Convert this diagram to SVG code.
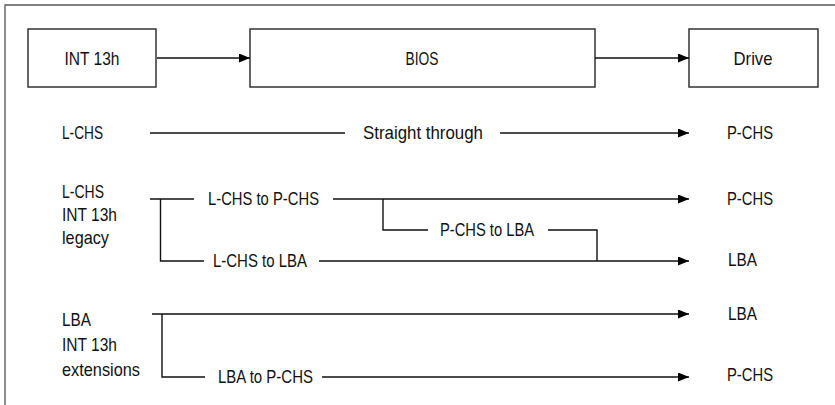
<svg xmlns="http://www.w3.org/2000/svg" width="835" height="405" viewBox="0 0 835 405">
<defs>
<marker id="ah" markerUnits="userSpaceOnUse" markerWidth="11" markerHeight="9" refX="11" refY="4.5" orient="auto">
<path d="M0,0 L11,4.5 L0,9 z" fill="#000"/>
</marker>
<style>
text{font-family:"Liberation Sans Narrow","Liberation Sans",Arial,sans-serif;font-size:19px;fill:#111}
.box{fill:#fff;stroke:#333;stroke-width:1.5}
.ln{fill:none;stroke:#111;stroke-width:1.4}
.ar{fill:none;stroke:#111;stroke-width:1.4;marker-end:url(#ah)}
.frame{fill:none;stroke:#555;stroke-width:1.3}
</style>
</defs>
<rect width="835" height="405" fill="#fff"/>
<path class="frame" d="M5,405 V5 H835"/>

<g id="int13h"><rect class="box" x="28" y="29" width="128" height="58"/><text x="92" y="65" text-anchor="middle" textLength="55" lengthAdjust="spacingAndGlyphs">INT 13h</text></g>
<g id="bios"><rect class="box" x="250" y="29" width="345" height="58"/><text x="422" y="65" text-anchor="middle" textLength="33" lengthAdjust="spacingAndGlyphs">BIOS</text></g>
<g id="drive"><rect class="box" x="689" y="29" width="129" height="58"/><text x="753" y="65" text-anchor="middle" textLength="39" lengthAdjust="spacingAndGlyphs">Drive</text></g>

<g id="row1-left"><text x="62" y="139" textLength="41" lengthAdjust="spacingAndGlyphs">L-CHS</text></g>
<g id="row1-right"><text x="727" y="139" textLength="46" lengthAdjust="spacingAndGlyphs">P-CHS</text></g>
<g id="straight"><text x="363" y="139" textLength="120" lengthAdjust="spacingAndGlyphs">Straight through</text></g>

<g id="row2-left"><text x="62" y="198" textLength="42" lengthAdjust="spacingAndGlyphs">L-CHS</text><text x="62" y="221" textLength="55" lengthAdjust="spacingAndGlyphs">INT 13h</text><text x="62" y="244" textLength="47" lengthAdjust="spacingAndGlyphs">legacy</text></g>
<g id="row2-pchs"><text x="727" y="205" textLength="46" lengthAdjust="spacingAndGlyphs">P-CHS</text></g>
<g id="row2-lba"><text x="728" y="266" textLength="29" lengthAdjust="spacingAndGlyphs">LBA</text></g>
<g id="lchs-pchs"><text x="208" y="205" textLength="111" lengthAdjust="spacingAndGlyphs">L-CHS to P-CHS</text></g>
<g id="pchs-lba"><text x="440" y="236" textLength="94" lengthAdjust="spacingAndGlyphs">P-CHS to LBA</text></g>
<g id="lchs-lba"><text x="213" y="267" textLength="94" lengthAdjust="spacingAndGlyphs">L-CHS to LBA</text></g>

<g id="row3-left"><text x="62" y="326" textLength="29" lengthAdjust="spacingAndGlyphs">LBA</text><text x="62" y="351" textLength="55" lengthAdjust="spacingAndGlyphs">INT 13h</text><text x="62" y="376" textLength="78" lengthAdjust="spacingAndGlyphs">extensions</text></g>
<g id="row3-lba"><text x="728" y="320" textLength="29" lengthAdjust="spacingAndGlyphs">LBA</text></g>
<g id="row3-pchs"><text x="727" y="381" textLength="46" lengthAdjust="spacingAndGlyphs">P-CHS</text></g>
<g id="lba-pchs"><text x="218" y="383" textLength="95" lengthAdjust="spacingAndGlyphs">LBA to P-CHS</text></g>

<g id="connectors">
<line class="ar" x1="157" y1="58" x2="250" y2="58"/>
<line class="ar" x1="595" y1="58" x2="689" y2="58"/>
<line class="ln" x1="150" y1="133" x2="345" y2="133"/>
<line class="ar" x1="500" y1="133" x2="689" y2="133"/>
<line class="ln" x1="150" y1="199" x2="194" y2="199"/>
<polyline class="ln" points="160.5,199 160.5,261 204,261"/>
<line class="ar" x1="333" y1="199" x2="689" y2="199"/>
<polyline class="ln" points="383,199 383,230 428,230"/>
<polyline class="ln" points="548,230 597,230 597,261"/>
<line class="ar" x1="319" y1="261" x2="689" y2="261"/>
<line class="ar" x1="152" y1="314" x2="689" y2="314"/>
<polyline class="ln" points="162,314 162,377 205,377"/>
<line class="ar" x1="322" y1="377" x2="689" y2="377"/>
</g>
</svg>
